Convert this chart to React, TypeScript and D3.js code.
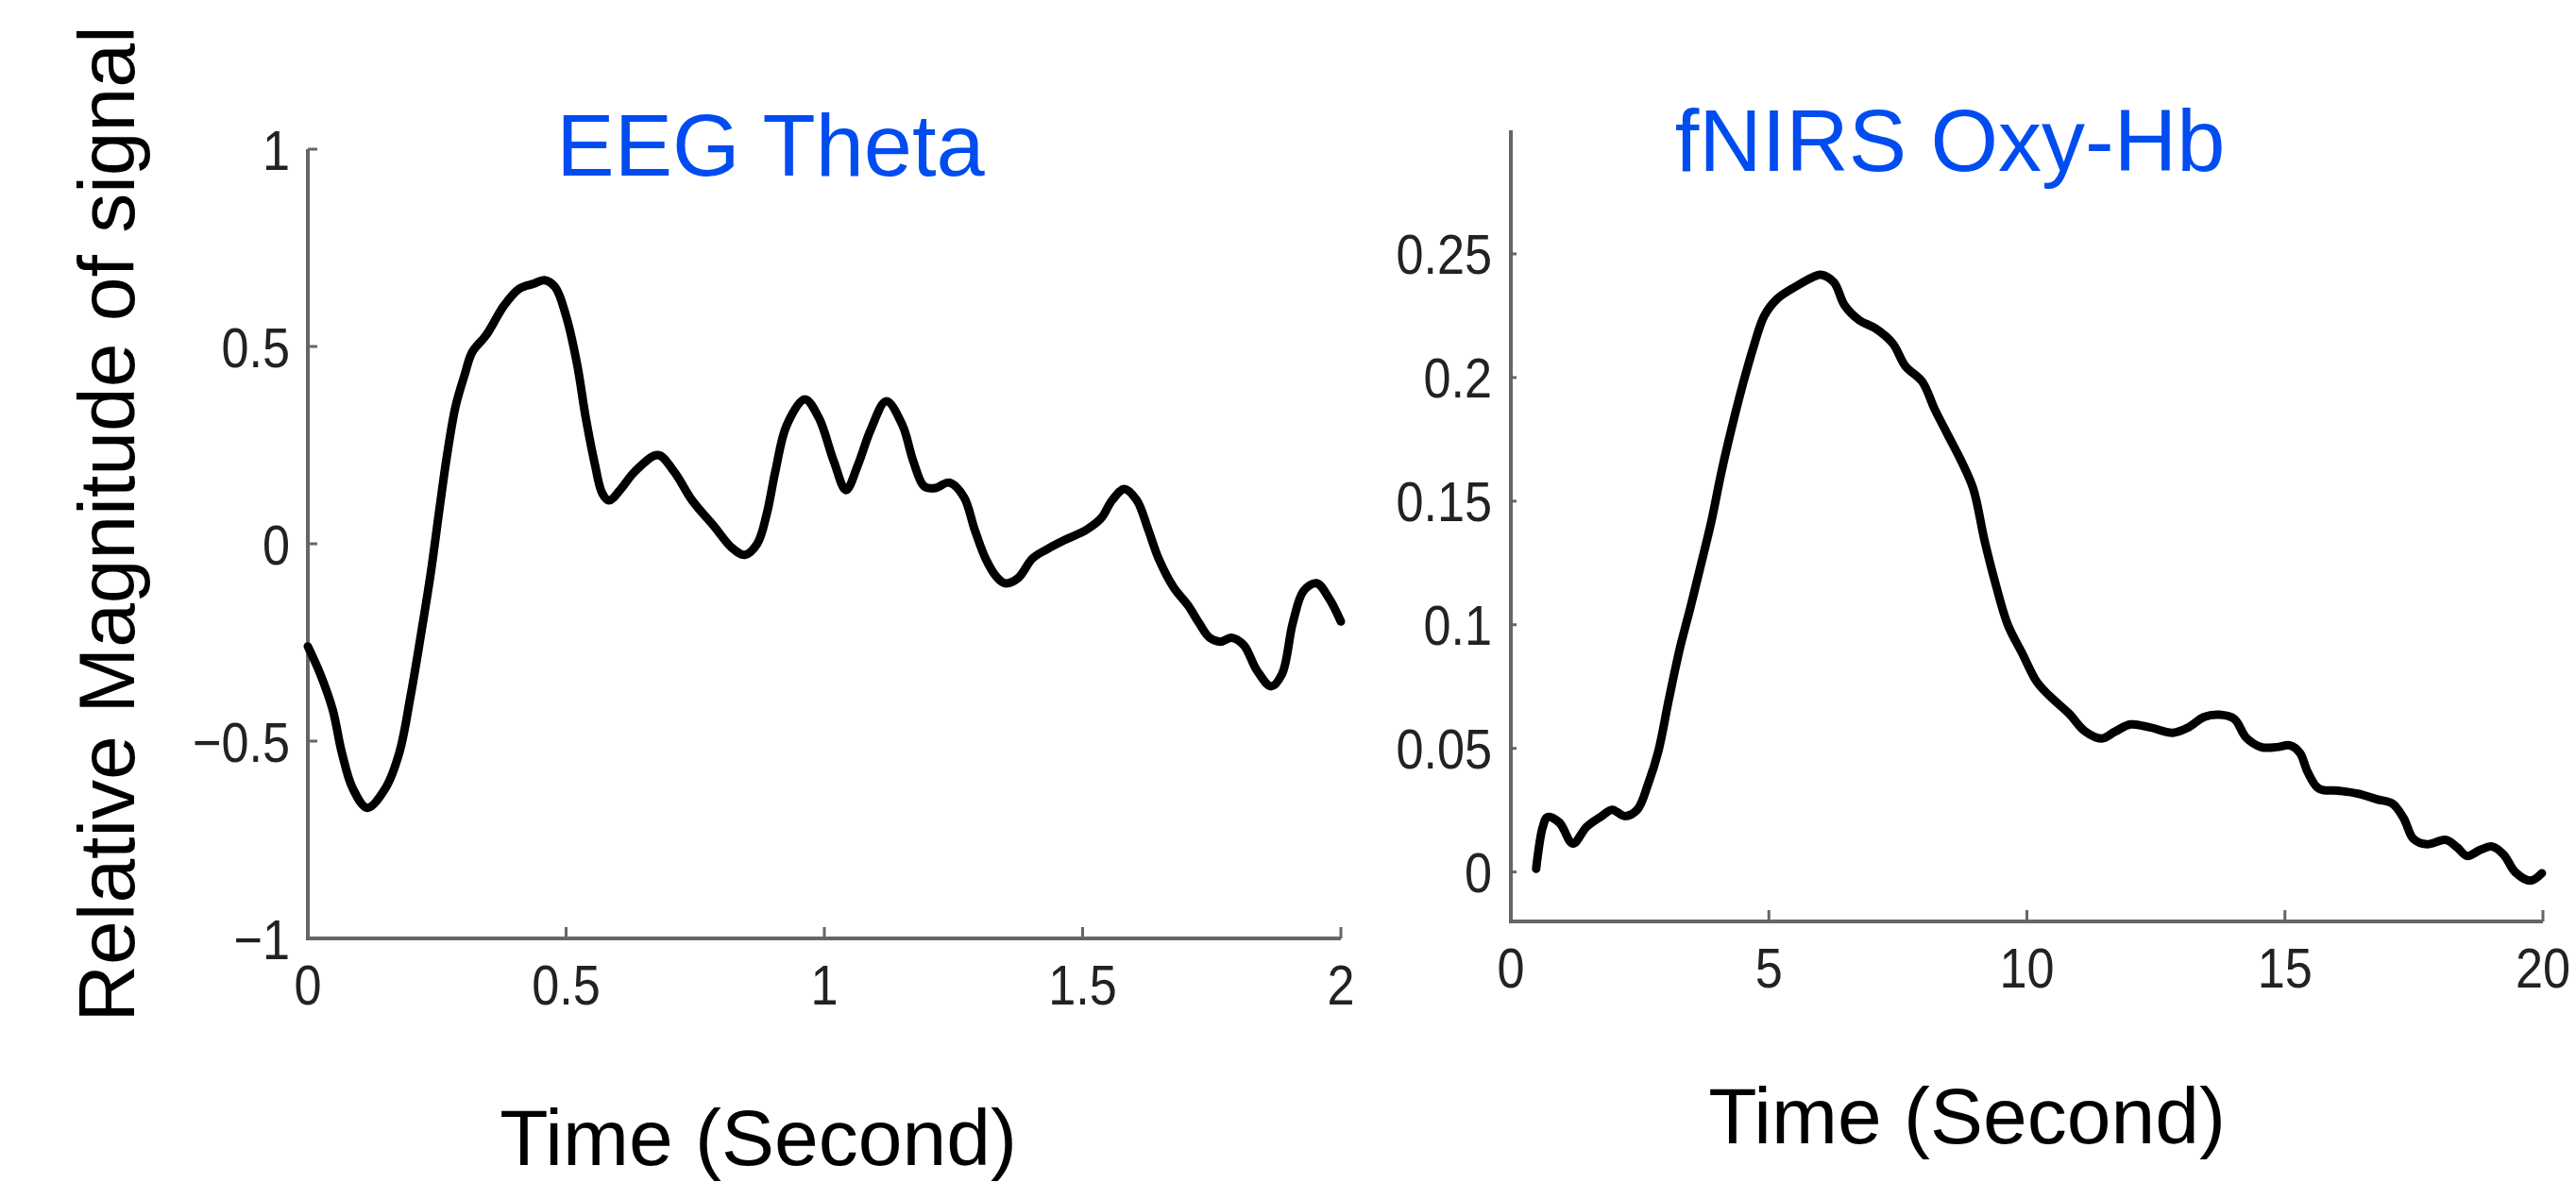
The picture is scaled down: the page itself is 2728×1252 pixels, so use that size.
import * as d3 from "d3";

// EEG theta band, relative magnitude vs time (s)
const eegTime = [
  0, 0.024, 0.048, 0.066, 0.087, 0.115, 0.15, 0.177, 0.199, 0.219, 0.238, 0.255,
  0.269, 0.286, 0.304, 0.318, 0.346, 0.38, 0.409, 0.437, 0.458, 0.479, 0.5, 0.521,
  0.538, 0.556, 0.57, 0.583, 0.605, 0.633, 0.678, 0.709, 0.744, 0.786, 0.821, 0.846,
  0.87, 0.888, 0.905, 0.927, 0.962, 0.989, 1.018, 1.042, 1.065, 1.09, 1.12, 1.151,
  1.172, 1.193, 1.214, 1.242, 1.27, 1.291, 1.312, 1.333, 1.35, 1.375, 1.403, 1.431,
  1.466, 1.508, 1.536, 1.557, 1.581, 1.605, 1.627, 1.647, 1.676, 1.704, 1.725, 1.746,
  1.767, 1.788, 1.812, 1.837, 1.865, 1.886, 1.907, 1.928, 1.953, 1.977, 2.0,
];
const eegValue = [
  -0.26, -0.33, -0.42, -0.53, -0.62, -0.669, -0.62, -0.53, -0.385, -0.23, -0.074, 0.09,
  0.22, 0.348, 0.43, 0.485, 0.53, 0.604, 0.646, 0.659, 0.668, 0.65, 0.577, 0.457,
  0.32, 0.2, 0.128, 0.11, 0.137, 0.183, 0.225, 0.183, 0.11, 0.045, -0.01, -0.028,
  0.0, 0.073, 0.183, 0.3, 0.366, 0.32, 0.21, 0.136, 0.2, 0.29, 0.361, 0.301,
  0.21, 0.146, 0.141, 0.155, 0.119, 0.036, -0.037, -0.083, -0.1, -0.087, -0.037, -0.014,
  0.01, 0.036, 0.065, 0.11, 0.139, 0.11, 0.036, -0.037, -0.11, -0.156, -0.2, -0.238,
  -0.248, -0.238, -0.257, -0.32, -0.361, -0.33, -0.2, -0.119, -0.1, -0.138, -0.197,
];

// fNIRS oxy-hemoglobin vs time (s)
const nirsTime = [
  0.49, 0.62, 0.71, 0.94, 1.2, 1.47, 1.76, 1.96, 2.21, 2.45, 2.66, 2.86, 3.06, 3.27,
  3.48, 3.68, 3.88, 4.08, 4.29, 4.5, 4.71, 4.91, 5.15, 5.52, 5.85, 6.01, 6.26, 6.47,
  6.75, 7.07, 7.4, 7.65, 7.97, 8.21, 8.46, 8.71, 8.96, 9.18, 9.4, 9.63, 9.92, 10.19,
  10.45, 10.82, 11.12, 11.45, 11.71, 12.01, 12.38, 12.83, 13.13, 13.43, 13.73, 14.02,
  14.25, 14.54, 14.84, 15.1, 15.29, 15.44, 15.66, 16.03, 16.41, 16.78, 17.08, 17.3,
  17.49, 17.75, 18.12, 18.34, 18.53, 18.79, 19.01, 19.24, 19.46, 19.76, 19.98,
];
const nirsValue = [
  0.0013, 0.0183, 0.0222, 0.02, 0.0115, 0.0183, 0.0226, 0.0252, 0.0226, 0.0252, 0.0356,
  0.049, 0.0696, 0.09, 0.107, 0.124, 0.1413, 0.1617, 0.1805, 0.1976, 0.2129, 0.2249,
  0.2316, 0.2368, 0.2406, 0.2416, 0.2385, 0.2291, 0.2232, 0.2198, 0.2138, 0.2045,
  0.1984, 0.1873, 0.1771, 0.167, 0.155, 0.134, 0.116, 0.1, 0.088, 0.077, 0.071, 0.064,
  0.057, 0.054, 0.0568, 0.0597, 0.0585, 0.0563, 0.0585, 0.0627, 0.0636, 0.0619, 0.0543,
  0.0505, 0.0505, 0.0512, 0.0482, 0.0405, 0.0337, 0.0329, 0.0317, 0.0294, 0.0277,
  0.0218, 0.0134, 0.0112, 0.013, 0.0099, 0.0065, 0.009, 0.0103, 0.007, 0.0, -0.0035,
  -0.0005,
];

const eegXTicks = [0, 0.5, 1, 1.5, 2];
const eegYTicks = [-1, -0.5, 0, 0.5, 1];
const nirsXTicks = [0, 5, 10, 15, 20];
const nirsYTicks = [0, 0.05, 0.1, 0.15, 0.2, 0.25];

const W = 2728;
const H = 1252;
const FONT = "'Liberation Sans', Arial, Helvetica, sans-serif";
const AXIS = "#666666";
const BLUE = "#004cf0";

const fmt = (v: number) => (v < 0 ? "\u2212" + String(-v) : String(v));

type PanelProps = {
  xs: number[];
  ys: number[];
  xDomain: [number, number];
  yDomain: [number, number];
  xRange: [number, number];
  yRange: [number, number];
  xTicks: number[];
  yTicks: number[];
  yTickLen: number;
  xLabelBase: number;
  yLabelRight: number;
};

function Panel(p: PanelProps) {
  const x = d3.scaleLinear().domain(p.xDomain).range(p.xRange);
  const y = d3.scaleLinear().domain(p.yDomain).range(p.yRange);
  const pts = p.xs.map((t, i) => [t, p.ys[i]] as [number, number]);
  const line = d3
    .line<[number, number]>()
    .x((d) => x(d[0]))
    .y((d) => y(d[1]))
    .curve(d3.curveCatmullRom.alpha(0.5));
  const x0 = p.xRange[0];
  const yb = p.yRange[0];
  return (
    <g>
      {/* axes lines */}
      <line x1={x0} x2={x0} y1={p.yRange[1]} y2={yb + 2} stroke={AXIS} strokeWidth={4} />
      <line x1={x0 - 2} x2={p.xRange[1]} y1={yb} y2={yb} stroke={AXIS} strokeWidth={4} />
      {p.yTicks.map((t) => (
        <g key={"y" + t}>
          <line x1={x0} x2={x0 + p.yTickLen} y1={y(t)} y2={y(t)} stroke={AXIS} strokeWidth={3} />
          <text
            transform={`translate(${p.yLabelRight},${y(t) + 21.5}) scale(0.87,1)`}
            textAnchor="end"
            fontSize={60}
            fontFamily={FONT}
            fill="#222"
          >
            {fmt(t)}
          </text>
        </g>
      ))}
      {p.xTicks.map((t) => (
        <g key={"x" + t}>
          <line x1={x(t)} x2={x(t)} y1={yb} y2={yb - 12} stroke={AXIS} strokeWidth={3} />
          <text
            transform={`translate(${x(t)},${p.xLabelBase}) scale(0.87,1)`}
            textAnchor="middle"
            fontSize={60}
            fontFamily={FONT}
            fill="#222"
          >
            {fmt(t)}
          </text>
        </g>
      ))}
      <path
        d={line(pts) ?? ""}
        fill="none"
        stroke="#000"
        strokeWidth={9}
        strokeLinejoin="round"
        strokeLinecap="round"
      />
    </g>
  );
}

export default function App() {
  return (
    <svg
      width={W}
      height={H}
      viewBox={`0 0 ${W} ${H}`}
      style={{ position: "absolute", left: 0, top: 0, background: "#fff" }}
    >
      <rect width={W} height={H} fill="#fff" />
      <Panel
        xs={eegTime}
        ys={eegValue}
        xDomain={[0, 2]}
        yDomain={[-1, 1]}
        xRange={[326, 1420]}
        yRange={[994, 158]}
        xTicks={eegXTicks}
        yTicks={eegYTicks}
        yTickLen={10}
        xLabelBase={1064}
        yLabelRight={307}
      />
      <Panel
        xs={nirsTime}
        ys={nirsValue}
        xDomain={[0, 20]}
        yDomain={[-0.02, 0.3]}
        xRange={[1600, 2693]}
        yRange={[976, 138]}
        xTicks={nirsXTicks}
        yTicks={nirsYTicks}
        yTickLen={6}
        xLabelBase={1046}
        yLabelRight={1580}
      />
      <text x={816} y={186} textAnchor="middle" fontSize={92} fontFamily={FONT} fill={BLUE}>
        EEG Theta
      </text>
      <text x={2065} y={181} textAnchor="middle" fontSize={92} fontFamily={FONT} fill={BLUE}>
        fNIRS Oxy-Hb
      </text>
      <text
        transform="translate(142,555) rotate(-90)"
        textAnchor="middle"
        fontSize={84}
        fontFamily={FONT}
        fill="#000"
      >
        Relative Magnitude of signal
      </text>
      <text x={803} y={1234} textAnchor="middle" fontSize={84} fontFamily={FONT} fill="#000">
        Time (Second)
      </text>
      <text x={2083} y={1211} textAnchor="middle" fontSize={84} fontFamily={FONT} fill="#000">
        Time (Second)
      </text>
    </svg>
  );
}
